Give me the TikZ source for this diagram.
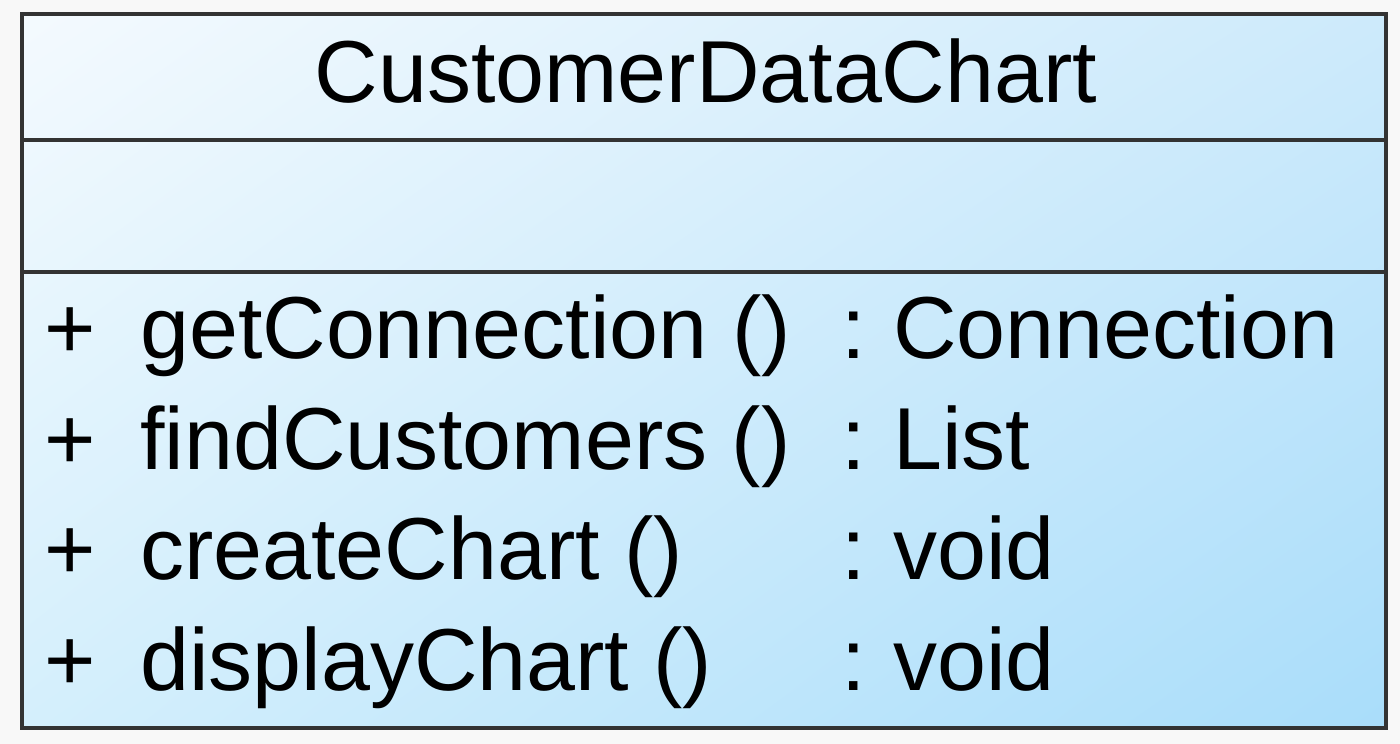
\documentclass[tikz,border=0pt]{standalone}
\usepackage{fontspec}
\setmainfont{Liberation Sans}
\usetikzlibrary{shadings}
\definecolor{frame}{HTML}{333333}
\definecolor{paper}{HTML}{F8F8F8}
\definecolor{tl}{HTML}{F4FAFE}
\definecolor{tr}{HTML}{CDEAFB}
\definecolor{bl}{HTML}{D4EFFC}
\definecolor{br}{HTML}{A9DDFA}
\begin{document}
\begin{tikzpicture}[x=1pt,y=-1pt,
  txt/.style={inner sep=0pt, font=\fontsize{88}{88}\selectfont, text=black},
  member/.style={txt, anchor=base west},
  rule/.style={draw=frame, line width=3.5pt}]
  % canvas
  \fill[paper] (0,0) rectangle (1400,744);
  % class box with diagonal gradient
  \shade[upper left=tl, upper right=tr, lower left=bl, lower right=br]
    (22,14) rectangle (1386,728);
  \draw[rule] (22,14) rectangle (1386,728);
  \draw[rule] (22,140) -- (1386,140);
  \draw[rule] (22,272) -- (1386,272);
  % class name
  \node[txt, anchor=base] (title) at (706,102) {CustomerDataChart};
  % operations
  \foreach \i/\y/\op/\ty in {1/358/getConnection ()/Connection,
                             2/469/findCustomers ()/List,
                             3/579/createChart ()/void,
                             4/690/displayChart ()/void} {
    \node[member] (vis\i) at (44,\y) {+};
    \node[member] (op\i) at (140,\y) {\op};
    \node[member] (col\i) at (841,\y) {:};
    \node[member] (ty\i) at (893,\y) {\ty};
  }
\end{tikzpicture}
\end{document}
